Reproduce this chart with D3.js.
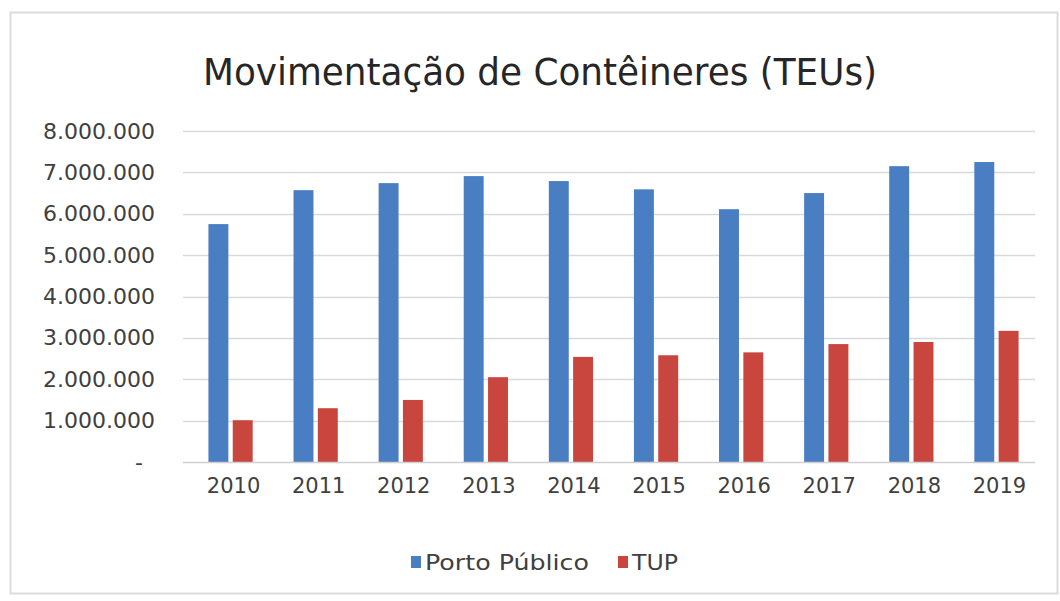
<!DOCTYPE html>
<html>
<head>
<meta charset="utf-8">
<script src="https://cdn.jsdelivr.net/npm/d3@7"></script>
<style>
  body { margin: 0; background: #fff; }
  svg { display: block; }
</style>
</head>
<body>
<div class="chart"></div>
<script>
// data
const YEARS = ["2010", "2011", "2012", "2013", "2014", "2015", "2016", "2017", "2018", "2019"];
const PORTO_PUBLICO = [5750000, 6570000, 6740000, 6910000, 6790000, 6590000, 6110000, 6500000, 7150000, 7250000];
const TUP = [1010000, 1300000, 1500000, 2050000, 2540000, 2580000, 2650000, 2850000, 2900000, 3170000];
const SERIES = ["Porto Público", "TUP"];
const Y_TICKS = [0, 1000000, 2000000, 3000000, 4000000, 5000000, 6000000, 7000000, 8000000];

const WIDTH = 1060;
const HEIGHT = 601;
const COLORS = ["#4a7ec2", "#c9463f"];
const FONT = "DejaVu Sans, sans-serif";

const rows = YEARS.map((y, i) => ({ year: y, values: [PORTO_PUBLICO[i], TUP[i]] }));

const svg = d3.select(".chart")
  .append("svg")
  .attr("width", WIDTH)
  .attr("height", HEIGHT);

// chart frame
svg.append("rect")
  .attr("x", 10.5)
  .attr("y", 12.5)
  .attr("width", 1047)
  .attr("height", 581)
  .attr("fill", "#fff")
  .attr("stroke", "#dcdcdc")
  .attr("stroke-width", 2);

// title
svg.append("text")
  .attr("x", 540)
  .attr("y", 85)
  .attr("text-anchor", "middle")
  .attr("font-family", FONT)
  .attr("font-size", 37)
  .attr("fill", "#262626")
  .attr("textLength", 674)
  .attr("lengthAdjust", "spacingAndGlyphs")
  .text("Movimentação de Contêineres (TEUs)");

const x0 = d3.scaleBand()
  .domain(YEARS)
  .range([188, 1039])
  .paddingInner(0.48)
  .paddingOuter(0.24);

const x1 = d3.scaleBand()
  .domain(SERIES)
  .range([0, x0.bandwidth()])
  .paddingInner(0.18);

const y = d3.scaleLinear()
  .domain([0, 8000000])
  .range([462, 131]);

const ptBR = d3.formatLocale({ decimal: ",", thousands: ".", grouping: [3], currency: ["R$", ""] });
const fmt = ptBR.format(",d");

// gridlines
svg.append("g")
  .attr("class", "grid")
  .selectAll("line")
  .data(Y_TICKS.filter(d => d > 0))
  .join("line")
  .attr("x1", 183)
  .attr("x2", 1035)
  .attr("y1", d => Math.round(y(d)) + 0.5)
  .attr("y2", d => Math.round(y(d)) + 0.5)
  .attr("stroke", "#d9d9d9")
  .attr("stroke-width", 1.5);

// y axis
const yAxis = svg.append("g")
  .attr("class", "axis y-axis")
  .attr("transform", "translate(160, 0)")
  .call(d3.axisLeft(y).tickValues(Y_TICKS).tickSize(0).tickPadding(5)
    .tickFormat(d => d === 0 ? "-" : fmt(d)));
yAxis.select(".domain").remove();
yAxis.selectAll("text")
  .attr("font-family", FONT)
  .attr("font-size", 22)
  .attr("fill", "#404040");
yAxis.selectAll(".tick")
  .filter(d => d === 0)
  .select("text")
  .attr("dx", -12);

// bars
svg.append("g")
  .attr("class", "bars")
  .selectAll("g")
  .data(rows)
  .join("g")
  .attr("transform", d => `translate(${x0(d.year)}, 0)`)
  .selectAll("rect")
  .data(d => d.values.map((v, i) => ({ key: SERIES[i], value: v, i })))
  .join("rect")
  .attr("x", d => x1(d.key))
  .attr("y", d => y(d.value))
  .attr("width", x1.bandwidth())
  .attr("height", d => y(0) - y(d.value))
  .attr("fill", d => COLORS[d.i]);

// x axis
const xAxis = svg.append("g")
  .attr("class", "axis x-axis")
  .attr("transform", `translate(0, ${y(0)})`)
  .call(d3.axisBottom(x0).tickSize(0).tickPadding(16));
xAxis.select(".domain")
  .attr("d", "M183,0.5H1035")
  .attr("stroke", "#d0d0d0")
  .attr("stroke-width", 1.5);
xAxis.selectAll("text")
  .attr("dx", 3)
  .attr("font-family", FONT)
  .attr("font-size", 21)
  .attr("fill", "#404040");

// legend
const legendItems = [
  { label: SERIES[0], color: COLORS[0], x: 411, len: 164 },
  { label: SERIES[1], color: COLORS[1], x: 618, len: 46 },
];
const legend = svg.append("g").attr("class", "legend");
const item = legend.selectAll("g")
  .data(legendItems)
  .join("g")
  .attr("transform", d => `translate(${d.x}, 562)`);
item.append("rect")
  .attr("x", 0)
  .attr("y", -6)
  .attr("width", 10)
  .attr("height", 12)
  .attr("fill", d => d.color);
item.append("text")
  .attr("x", 14)
  .attr("y", 8)
  .attr("font-family", FONT)
  .attr("font-size", 21)
  .attr("fill", "#404040")
  .attr("textLength", d => d.len)
  .attr("lengthAdjust", "spacingAndGlyphs")
  .text(d => d.label);
</script>
</body>
</html>
